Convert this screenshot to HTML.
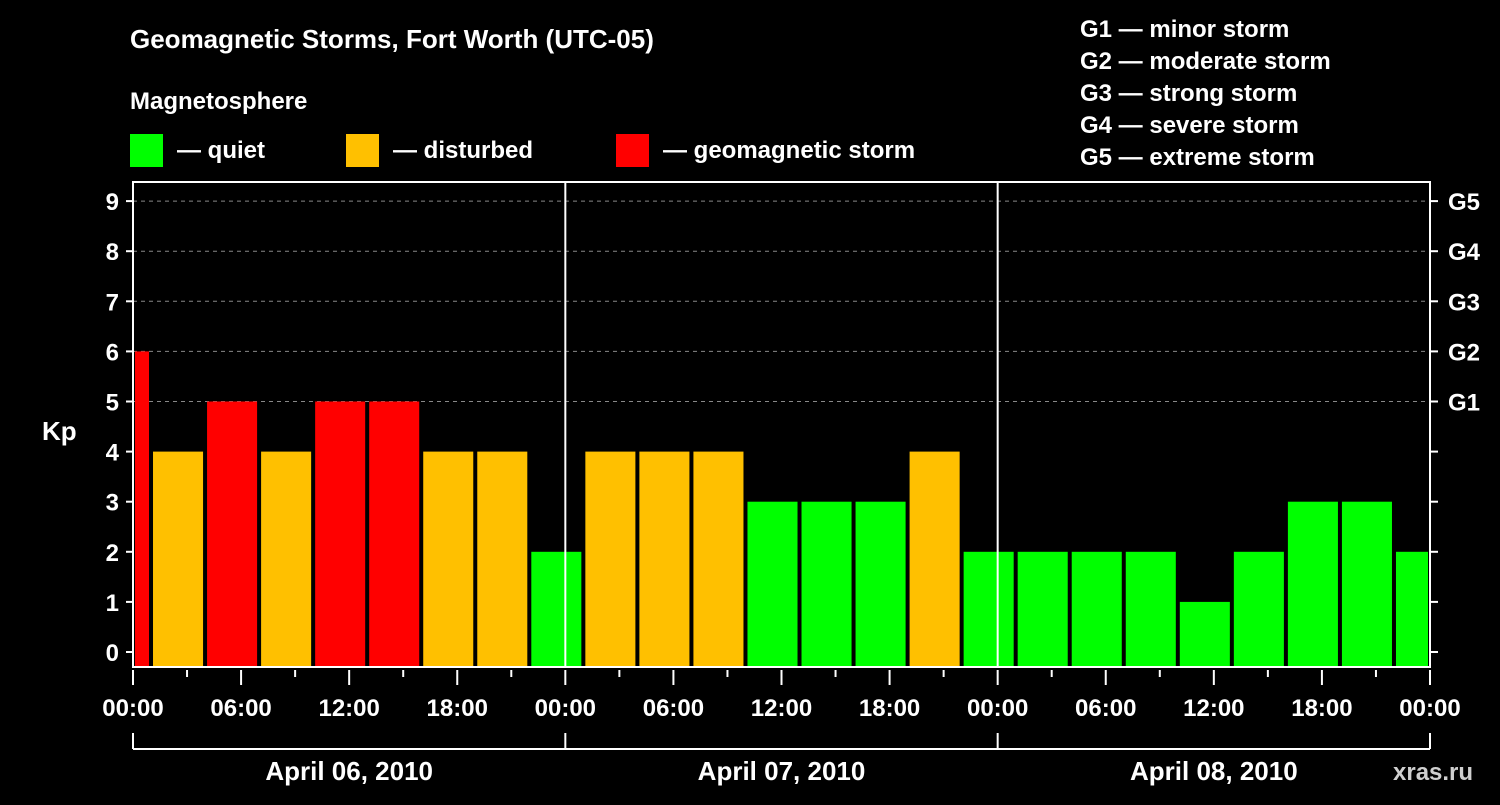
<!DOCTYPE html>
<html><head><meta charset="utf-8"><style>
body{margin:0;background:#000;width:1500px;height:800px;overflow:hidden}
svg text{font-family:"Liberation Sans",Arial,sans-serif;font-weight:bold;fill:#fff}
</style></head><body>
<svg id="chart" width="1500" height="800" xmlns="http://www.w3.org/2000/svg">
<rect width="1500" height="800" fill="#000"/>
<text x="130" y="48" font-size="26">Geomagnetic Storms, Fort Worth (UTC-05)</text>
<text x="130" y="109" font-size="24">Magnetosphere</text>
<g><rect x="130" y="134" width="33" height="33" fill="#00ff00"/><text x="177" y="158" font-size="24">— quiet</text></g>
<g><rect x="346" y="134" width="33" height="33" fill="#ffc000"/><text x="393" y="158" font-size="24">— disturbed</text></g>
<g><rect x="616" y="134" width="33" height="33" fill="#ff0000"/><text x="663" y="158" font-size="24">— geomagnetic storm</text></g>
<g font-size="24">
<text x="1080" y="37">G1 — minor storm</text>
<text x="1080" y="69">G2 — moderate storm</text>
<text x="1080" y="101">G3 — strong storm</text>
<text x="1080" y="133">G4 — severe storm</text>
<text x="1080" y="165">G5 — extreme storm</text>
</g>
<text x="42" y="440" font-size="26">Kp</text>
<text x="1393" y="780" font-size="24" fill="#ccc" style="fill:#cfcfcf">xras.ru</text>
<g id="plot"></g>
</svg>
<script>
const kpValues=[6,4,5,4,5,5,4,4,2,4,4,4,3,3,3,4,2,2,2,2,1,2,3,3,2];
const slotStartHours=[-2,1,4,7,10,13,16,19,22,25,28,31,34,37,40,43,46,49,52,55,58,61,64,67,70];
const yTicks=[0,1,2,3,4,5,6,7,8,9];
const gLabels=["G1","G2","G3","G4","G5"];
const xTickLabels=["00:00","06:00","12:00","18:00","00:00","06:00","12:00","18:00","00:00","06:00","12:00","18:00","00:00"];
const dayLabels=["April 06, 2010","April 07, 2010","April 08, 2010"];
const X0=133,X1=1430,TOP=182,BOT=667,HOURS=72;
const xs=h=>X0+(X1-X0)*h/HOURS;
const ys=k=>652-k*50.1;
const NS="http://www.w3.org/2000/svg";
const g=document.getElementById('plot');
function mk(t,a,p){const e=document.createElementNS(NS,t);for(const k in a)e.setAttribute(k,a[k]);(p||g).appendChild(e);return e;}
// gridlines
for(let k=5;k<=9;k++){const l=mk('line',{x1:X0,x2:X1,y1:ys(k),y2:ys(k),stroke:'#888','stroke-dasharray':'4,4','stroke-width':1});

}
// bars
kpValues.forEach((v,i)=>{
 const h0=Math.max(0,slotStartHours[i]),h1=Math.min(HOURS,slotStartHours[i]+3);
 const x0=xs(h0)+2,x1=xs(h1)-2;
 const c=v>=5?'#ff0000':(v>=4?'#ffc000':'#00ff00');
 const r=mk('rect',{x:x0,y:ys(v),width:x1-x0,height:BOT-ys(v),fill:c});
 
 
});
// day lines
[24,48].forEach(h=>{const l=mk('line',{x1:xs(h),x2:xs(h),y1:TOP,y2:BOT,stroke:'#fff','stroke-width':2});

});
// frame
const f=mk('rect',{x:X0,y:TOP,width:X1-X0,height:BOT-TOP,fill:'none',stroke:'#fff','stroke-width':2});


// y ticks
yTicks.forEach(k=>{
 mk('line',{x1:X0-7,x2:X0,y1:ys(k),y2:ys(k),stroke:'#fff','stroke-width':2});
 mk('line',{x1:X1,x2:X1+8,y1:ys(k),y2:ys(k),stroke:'#fff','stroke-width':2});
 const t=mk('text',{x:X0-14,y:ys(k)+9,'font-size':24,'text-anchor':'end'});t.textContent=k;
 
 
 if(k>=5){const r=mk('text',{x:X1+18,y:ys(k)+9,'font-size':24});r.textContent=gLabels[k-5];
 
 }
});
// x ticks
for(let h=0;h<=HOURS;h+=3){const major=h%6==0;mk('line',{x1:xs(h),x2:xs(h),y1:BOT+3,y2:BOT+(major?18:10),stroke:'#fff','stroke-width':2});}
xTickLabels.forEach((s,i)=>{const t=mk('text',{x:xs(i*6),y:716,'font-size':24,'text-anchor':'middle'});t.textContent=s;

});
// bracket
mk('line',{x1:X0,x2:X1,y1:749,y2:749,stroke:'#fff','stroke-width':2});
[0,24,48,72].forEach(h=>mk('line',{x1:xs(h),x2:xs(h),y1:733,y2:749,stroke:'#fff','stroke-width':2}));
dayLabels.forEach((s,i)=>{const t=mk('text',{x:xs(i*24+12),y:780,'font-size':26,'text-anchor':'middle'});t.textContent=s;

});
</script>
</body></html>
